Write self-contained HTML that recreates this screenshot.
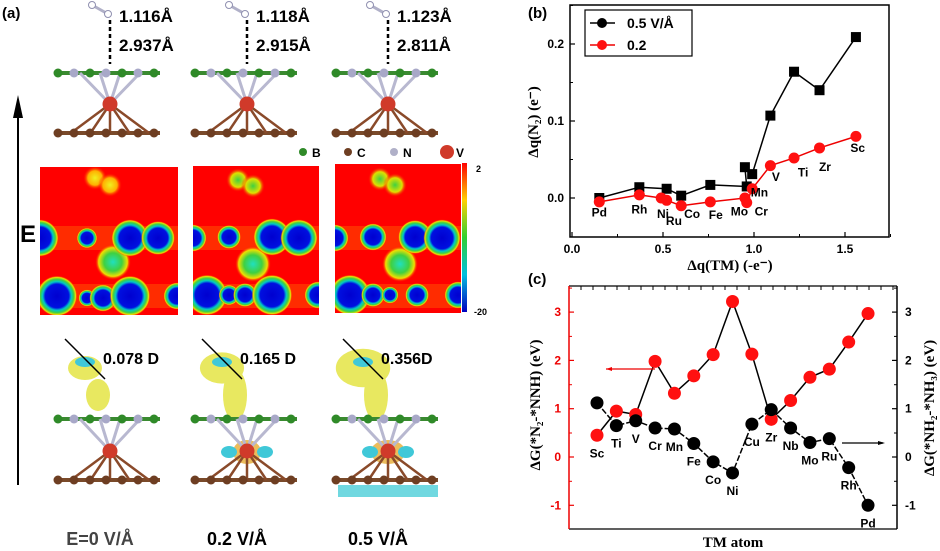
<!DOCTYPE html>
<html><head><meta charset="utf-8"><style>
html,body{margin:0;padding:0;background:#fff;}
svg{display:block;font-family:"Liberation Sans",Arial,sans-serif;}
</style></head><body>
<svg id="fig" width="940" height="551" viewBox="0 0 940 551" xmlns="http://www.w3.org/2000/svg">
<defs>
<radialGradient id="gBlue"><stop offset="0" stop-color="#0000d0"/><stop offset="0.58" stop-color="#0010e0"/><stop offset="0.7" stop-color="#00c8c8"/><stop offset="0.82" stop-color="#40d040"/><stop offset="0.92" stop-color="#f0e000"/><stop offset="1" stop-color="#ff0000" stop-opacity="0"/></radialGradient>
<radialGradient id="gGreen"><stop offset="0" stop-color="#20e0c0"/><stop offset="0.5" stop-color="#40d040"/><stop offset="0.8" stop-color="#f0e000"/><stop offset="1" stop-color="#ff0000" stop-opacity="0"/></radialGradient>
<radialGradient id="gYel"><stop offset="0" stop-color="#f0f020"/><stop offset="0.6" stop-color="#ffb000"/><stop offset="1" stop-color="#ff0000" stop-opacity="0"/></radialGradient>
<radialGradient id="gHalo"><stop offset="0" stop-color="#40d040"/><stop offset="0.6" stop-color="#e0e000"/><stop offset="1" stop-color="#ff0000" stop-opacity="0"/></radialGradient>
<linearGradient id="cbar" x1="0" y1="0" x2="0" y2="1"><stop offset="0" stop-color="#ff0000"/><stop offset="0.25" stop-color="#ffd000"/><stop offset="0.5" stop-color="#30d030"/><stop offset="0.75" stop-color="#00c0e0"/><stop offset="1" stop-color="#0000c0"/></linearGradient>
<clipPath id="c1"><rect x="40" y="167" width="138" height="148"/></clipPath>
<clipPath id="c2"><rect x="193" y="166" width="126" height="149"/></clipPath>
<clipPath id="c3"><rect x="335" y="164" width="126" height="149"/></clipPath>
</defs>
<g id="panelA"></g>
<g id="panelB"></g>
<g id="panelC"></g>
</svg>
<script>
// ---------- Panel (b) data ----------
var bBlackX = [0.15, 0.37, 0.52, 0.60, 0.76, 0.96, 0.95, 0.99, 1.09, 1.22, 1.36, 1.56];
var bBlackY = [0.000, 0.014, 0.012, 0.003, 0.017, 0.015, 0.040, 0.031, 0.107, 0.164, 0.140, 0.209];
var bRedX = [0.15, 0.37, 0.49, 0.52, 0.60, 0.76, 0.95, 0.96, 0.99, 1.09, 1.22, 1.36, 1.56];
var bRedY = [-0.005, 0.004, 0.000, -0.003, -0.010, -0.005, 0.000, -0.006, 0.012, 0.042, 0.052, 0.065, 0.080];
var bLabels = ["Pd","Rh","Ni","Ru","Co","Fe","Mo","Cr","Mn","V","Ti","Zr","Sc"];
var bLabelX = [0.15,0.37,0.50,0.56,0.66,0.79,0.92,1.04,1.03,1.12,1.27,1.39,1.57];
var bLabelY = [-0.024,-0.020,-0.026,-0.035,-0.026,-0.027,-0.023,-0.023,0.002,0.022,0.028,0.035,0.060];
var bXTicks = [0.0, 0.5, 1.0, 1.5];
var bXTickLabels = ["0.0","0.5","1.0","1.5"];
var bYTicks = [0.0, 0.1, 0.2];
var bYTickLabels = ["0.0","0.1","0.2"];
// ---------- Panel (c) data ----------
var cAtoms = ["Sc","Ti","V","Cr","Mn","Fe","Co","Ni","Cu","Zr","Nb","Mo","Ru","Rh","Pd"];
var cRed = [0.45, 0.95, 0.88, 1.98, 1.32, 1.68, 2.12, 3.22, 2.13, 0.78, 1.17, 1.65, 1.82, 2.38, 2.97];
var cBlack = [1.12, 0.65, 0.75, 0.60, 0.58, 0.28, -0.10, -0.33, 0.68, 0.98, 0.60, 0.30, 0.38, -0.22, -1.00];
var cYTicks = [-1, 0, 1, 2, 3];
var cYTickLabels = ["-1","0","1","2","3"];

var NS = "http://www.w3.org/2000/svg";
function mk(parent, tag, attrs, text){
  var e = document.createElementNS(NS, tag);
  for (var k in attrs) e.setAttribute(k, attrs[k]);
  if (text !== undefined) e.textContent = text;
  parent.appendChild(e);
  return e;
}

// ================= Panel B =================
(function(){
  var g = document.getElementById("panelB");
  var L=570, R=889, T=5, B=237;
  function xs(v){ return 572 + v*182; }
  function ys(v){ return 198 - v*770; }
  var fr = mk(g,"rect",{x:L,y:T,width:R-L,height:B-T,fill:"none",stroke:"#000","stroke-width":1.5});
  
  
  var t = mk(g,"text",{x:528,y:18,"font-size":15,"font-weight":"bold"},"(b)");
  
  
  for (var i=0;i<bXTicks.length;i++){
    var x = xs(bXTicks[i]);
    mk(g,"line",{x1:x,y1:B,x2:x,y2:B-5,stroke:"#000","stroke-width":1.2});
    mk(g,"line",{x1:x+45.5,y1:B,x2:x+45.5,y2:B-3,stroke:"#000","stroke-width":1});
    var tl = mk(g,"text",{x:x,y:B+16,"font-size":12,"font-weight":"bold","text-anchor":"middle"},bXTickLabels[i]);
    
    
  }
  for (var i=0;i<bYTicks.length;i++){
    var y = ys(bYTicks[i]);
    mk(g,"line",{x1:L,y1:y,x2:L+5,y2:y,stroke:"#000","stroke-width":1.2});
    mk(g,"line",{x1:L,y1:y-38.5,x2:L+3,y2:y-38.5,stroke:"#000","stroke-width":1});
    var tl = mk(g,"text",{x:L-6,y:y+4,"font-size":12,"font-weight":"bold","text-anchor":"end"},bYTickLabels[i]);
    
    
  }
  var xt = mk(g,"text",{x:730,y:270,"font-size":15,"font-weight":"bold","font-family":"Liberation Serif, serif","text-anchor":"middle"},"\u0394q(TM) (-e\u207B)");
  
  
  var yt = mk(g,"text",{x:0,y:0,"font-size":15,"font-weight":"bold","font-family":"Liberation Serif, serif","text-anchor":"middle",transform:"translate(538,122) rotate(-90)"},"\u0394q(N\u2082) (e\u207B)");
  
  
  var p="";
  for (var i=0;i<bBlackX.length;i++) p += (i?"L":"M")+xs(bBlackX[i])+","+ys(bBlackY[i]);
  var ln = mk(g,"path",{d:p,fill:"none",stroke:"#000","stroke-width":1.5});
  
  
  p="";
  for (var i=0;i<bRedX.length;i++) p += (i?"L":"M")+xs(bRedX[i])+","+ys(bRedY[i]);
  ln = mk(g,"path",{d:p,fill:"none",stroke:"#e00","stroke-width":1.5});
  
  
  for (var i=0;i<bBlackX.length;i++){
    var s = mk(g,"rect",{x:xs(bBlackX[i])-5,y:ys(bBlackY[i])-5,width:10,height:10,fill:"#000"});
    
    
  }
  for (var i=0;i<bRedX.length;i++){
    var c = mk(g,"circle",{cx:xs(bRedX[i]),cy:ys(bRedY[i]),r:5.5,fill:"#ff1010"});
    
    
  }
  for (var i=0;i<bLabels.length;i++){
    var l = mk(g,"text",{x:xs(bLabelX[i]),y:ys(bLabelY[i]),"font-size":12,"font-weight":"bold","text-anchor":"middle"},bLabels[i]);
    
    
  }
  var lg = mk(g,"g",{});
  
  
  mk(lg,"rect",{x:585,y:10,width:107,height:46,fill:"#fff",stroke:"#000","stroke-width":1.2});
  mk(lg,"line",{x1:590,y1:23,x2:615,y2:23,stroke:"#000","stroke-width":1.5});
  mk(lg,"circle",{cx:602,cy:23,r:5,fill:"#000"});
  var le=mk(lg,"text",{x:627,y:28,"font-size":14,"font-weight":"bold"},"0.5 V/\u00C5");
  
  
  mk(lg,"line",{x1:590,y1:45,x2:615,y2:45,stroke:"#e00","stroke-width":1.5});
  mk(lg,"circle",{cx:602,cy:45,r:5,fill:"#ff1010"});
  le=mk(lg,"text",{x:627,y:50,"font-size":14,"font-weight":"bold"},"0.2");
  
  
})();

// ================= Panel C =================
(function(){
  var g = document.getElementById("panelC");
  var L=569, R=897, T=286, B=529;
  function xs(i){ return 597 + i*19.36; }
  function ys(v){ return 457 - v*48.3; }
  var t = mk(g,"text",{x:528,y:284,"font-size":15,"font-weight":"bold"},"(c)");
  
  
  mk(g,"line",{x1:L,y1:T,x2:R,y2:T,stroke:"#000","stroke-width":1.2});
  mk(g,"line",{x1:L,y1:B,x2:R,y2:B,stroke:"#000","stroke-width":1.2});
  var la = mk(g,"line",{x1:L,y1:T,x2:L,y2:B,stroke:"#e00","stroke-width":1.5});
  
  
  var ra = mk(g,"line",{x1:R,y1:T,x2:R,y2:B,stroke:"#000","stroke-width":1.5});
  
  
  for (var x=L+12;x<R;x+=12){ mk(g,"line",{x1:x,y1:T,x2:x,y2:T+4,stroke:"#000","stroke-width":1}); }
  for (var i=0;i<cYTicks.length;i++){
    var y=ys(cYTicks[i]);
    mk(g,"line",{x1:L,y1:y,x2:L+5,y2:y,stroke:"#e00","stroke-width":1.2});
    mk(g,"line",{x1:L,y1:y-24,x2:L+3,y2:y-24,stroke:"#e00","stroke-width":1});
    mk(g,"line",{x1:R,y1:y,x2:R-5,y2:y,stroke:"#000","stroke-width":1.2});
    mk(g,"line",{x1:R,y1:y-24,x2:R-3,y2:y-24,stroke:"#000","stroke-width":1});
    var tl=mk(g,"text",{x:L-8,y:y+4,"font-size":12,"font-weight":"bold","fill":"#e00","text-anchor":"end"},cYTickLabels[i]);
    
    
    tl=mk(g,"text",{x:R+8,y:y+4,"font-size":12,"font-weight":"bold","text-anchor":"start"},cYTickLabels[i]);
    
    
  }
  var xt=mk(g,"text",{x:733,y:547,"font-size":15,"font-weight":"bold","font-family":"Liberation Serif, serif","text-anchor":"middle"},"TM atom");
  
  
  var yt=mk(g,"text",{x:0,y:0,"font-size":15,"font-weight":"bold","font-family":"Liberation Serif, serif","text-anchor":"middle",transform:"translate(540,405) rotate(-90)"},"\u0394G(*N\u2082-*NNH) (eV)");
  
  
  yt=mk(g,"text",{x:0,y:0,"font-size":15,"font-weight":"bold","font-family":"Liberation Serif, serif","text-anchor":"middle",transform:"translate(934,408) rotate(-90)"},"\u0394G(*NH\u2082-*NH\u2083) (eV)");
  
  
  var p="";
  for (var i=0;i<cRed.length;i++) p+=(i?"L":"M")+xs(i)+","+ys(cRed[i]);
  var ln=mk(g,"path",{d:p,fill:"none",stroke:"#000","stroke-width":1.5});
  
  
  p="";
  for (var i=0;i<cBlack.length;i++) p+=(i?"L":"M")+xs(i)+","+ys(cBlack[i]);
  ln=mk(g,"path",{d:p,fill:"none",stroke:"#000","stroke-width":1.5,"stroke-dasharray":"6,2"});
  
  
  for (var i=0;i<cRed.length;i++){
    var c=mk(g,"circle",{cx:xs(i),cy:ys(cRed[i]),r:6.5,fill:"#ff1010"});
    
    
  }
  for (var i=0;i<cBlack.length;i++){
    var c=mk(g,"circle",{cx:xs(i),cy:ys(cBlack[i]),r:6.5,fill:"#000"});
    
    
    var l=mk(g,"text",{x:xs(i),y:ys(Math.min(cBlack[i],cRed[i]))+22,"font-size":12,"font-weight":"bold","text-anchor":"middle"},cAtoms[i]);
    
    
  }
  var a1=mk(g,"line",{x1:655,y1:369,x2:606,y2:369,stroke:"#e00","stroke-width":1.2});
  
  
  mk(g,"polygon",{points:"606,369 612,367 612,371",fill:"#e00"});
  var a2=mk(g,"line",{x1:842,y1:443,x2:883,y2:443,stroke:"#000","stroke-width":1.2});
  
  
  mk(g,"polygon",{points:"885,443 878,441 878,445",fill:"#000"});
})();

// ================= Panel A =================
(function(){
  var g=document.getElementById("panelA");
  var t=mk(g,"text",{x:2,y:18,"font-size":15,"font-weight":"bold"},"(a)");
  
  
  var ar=mk(g,"line",{x1:18,y1:485,x2:18,y2:110,stroke:"#000","stroke-width":2});
  
  
  mk(g,"polygon",{points:"18,95 13,118 23,118",fill:"#000"});
  var et=mk(g,"text",{x:20,y:242,"font-size":24,"font-weight":"bold"},"E");
  
  
  var cols=[110,247,388];
  var bond1=["1.116\u00C5","1.118\u00C5","1.123\u00C5"];
  var bond2=["2.937\u00C5","2.915\u00C5","2.811\u00C5"];
  var dip=["0.078 D","0.165 D","0.356D"];
  var fields=["E=0 V/\u00C5","0.2 V/\u00C5","0.5 V/\u00C5"];
  function structure(cx, yG, yV, yC, name){
    var s=mk(g,"g",{});
    
    
    mk(s,"line",{x1:cx-55,y1:yG,x2:cx+50,y2:yG,stroke:"#3a8a30","stroke-width":4});
    mk(s,"line",{x1:cx-55,y1:yC,x2:cx+50,y2:yC,stroke:"#7a4a2a","stroke-width":4});
    [-30,-10,10,30].forEach(function(d){ mk(s,"line",{x1:cx+d,y1:yG,x2:cx,y2:yV,stroke:(d%20?"#b8b8d0":"#d03020"),"stroke-width":3}); });
    [-30,-15,0,15,30].forEach(function(d){ mk(s,"line",{x1:cx,y1:yV,x2:cx+d*1.3,y2:yC,stroke:"#8a4a2a","stroke-width":2.5}); });
    for (var k=0;k<7;k++){
      var xx=cx-52+k*16;
      mk(s,"circle",{cx:xx,cy:yG,r:4.5,fill:(k%2?"#a8a8c8":"#2f8a28")});
      mk(s,"circle",{cx:xx,cy:yC,r:4.5,fill:"#6e3e22"});
    }
    mk(s,"circle",{cx:cx,cy:yV,r:7.5,fill:"#d03a2a"});
  }
  for (var i=0;i<3;i++){
    var cx=cols[i];
    mk(g,"line",{x1:cx-18,y1:5,x2:cx-2,y2:14,stroke:"#b0b0c8","stroke-width":3});
    mk(g,"circle",{cx:cx-18,cy:5,r:3.5,fill:"#fff",stroke:"#9090b0"});
    mk(g,"circle",{cx:cx-2,cy:14,r:3.5,fill:"#fff",stroke:"#9090b0"});
    mk(g,"line",{x1:cx,y1:20,x2:cx,y2:64,stroke:"#000","stroke-width":2.5,"stroke-dasharray":"4,3"});
    var b1=mk(g,"text",{x:cx+9,y:22,"font-size":17,"font-weight":"bold"},bond1[i]);
    
    
    var b2=mk(g,"text",{x:cx+9,y:51,"font-size":17,"font-weight":"bold"},bond2[i]);
    
    
    structure(cx,73,104,133,'top-structure');
    var cd=mk(g,"g",{});
    
    
    var sc=[1,1.3,1.6][i];
    mk(cd,"ellipse",{cx:cx-25,cy:368,rx:17*sc,ry:12*sc,fill:"#e8e860"});
    mk(cd,"ellipse",{cx:cx-12,cy:395,rx:12,ry:20*(i?1.3:0.8),fill:"#e8e860"});
    mk(cd,"ellipse",{cx:cx-25,cy:362,rx:10,ry:5,fill:"#40c8d8"});
    mk(cd,"path",{d:"M"+(cx-45)+",339 l40,40",stroke:"#000","stroke-width":1.5,fill:"none"});
    var dl=mk(g,"text",{x:cx-7,y:364,"font-size":16,"font-weight":"bold"},dip[i]);
    
    
    structure(cx,419,451,480,'bottom-structure');
    if(i>0){ mk(cd,"ellipse",{cx:cx,cy:452,rx:14*sc/1.3,ry:12,fill:"#e8b040",opacity:0.85}); mk(cd,"ellipse",{cx:cx+18,cy:452,rx:8,ry:6,fill:"#40c8d8"}); mk(cd,"ellipse",{cx:cx-18,cy:452,rx:8,ry:6,fill:"#40c8d8"}); }
    if(i==2){ mk(cd,"rect",{x:cx-50,y:485,width:100,height:12,fill:"#70d8e0"}); }
    var fl=mk(g,"text",{x:cx-10,y:545,"font-size":18,"font-weight":"bold","text-anchor":"middle","fill":(i?"#000":"#444")},fields[i]);
    
    
  }
  var leg=mk(g,"g",{});
  
  
  [["B",303,"#2f8a28",4],["C",348,"#6e3e22",4],["N",394,"#b0b0c8",4],["V",447,"#d03a2a",7]].forEach(function(a){
    mk(leg,"circle",{cx:a[1],cy:152,r:a[3],fill:a[2]});
    mk(leg,"text",{x:a[1]+9,y:157,"font-size":12,"font-weight":"bold"},a[0]);
  });
  var boxes=[[40,167,138,148,"c1"],[193,166,126,149,"c2"],[335,164,126,149,"c3"]];
  var blue=[[[40,238,11],[87,238,6],[130,238,11],[158,238,10],[57,296,12],[87,298,5],[103,298,8],[130,296,12],[177,296,8]],
            [[193,238,8],[229,237,7],[272,237,11],[299,238,11],[207,295,12],[229,295,6],[245,295,7],[272,295,12],[318,295,8]],
            [[335,238,8],[373,237,8],[415,237,10],[442,238,11],[350,295,12],[373,295,7],[390,295,5],[417,295,7],[458,295,8]]];
  var mid=[[113,262],[253,264],[400,264]];
  var top=[[[95,178],[110,185]],[[238,180],[253,186]],[[380,179],[395,185]]];
  for (var i=0;i<3;i++){
    var b=boxes[i];
    var hm=mk(g,"g",{"clip-path":"url(#"+b[4]+")"});
    
    
    mk(hm,"rect",{x:b[0],y:b[1],width:b[2],height:b[3],fill:"#ff0000"});
    mk(hm,"rect",{x:b[0],y:226,width:b[2],height:24,fill:"#ffb000",opacity:0.25});
    mk(hm,"rect",{x:b[0],y:284,width:b[2],height:24,fill:"#ffb000",opacity:0.25});
    top[i].forEach(function(p){ mk(hm,"circle",{cx:p[0],cy:p[1],r:12,fill:(i?"url(#gHalo)":"url(#gYel)")}); });
    mk(hm,"circle",{cx:mid[i][0],cy:mid[i][1],r:18,fill:"url(#gGreen)"});
    blue[i].forEach(function(p){ mk(hm,"circle",{cx:p[0],cy:p[1],r:p[2]*1.7,fill:"url(#gBlue)"}); });
  }
  var cb=mk(g,"rect",{x:462,y:163,width:5,height:149,fill:"url(#cbar)"});
  
  
  mk(g,"text",{x:476,y:172,"font-size":9,"font-weight":"bold"},"2");
  mk(g,"text",{x:474,y:315,"font-size":9,"font-weight":"bold"},"-20");
})();
</script>
</body></html>
